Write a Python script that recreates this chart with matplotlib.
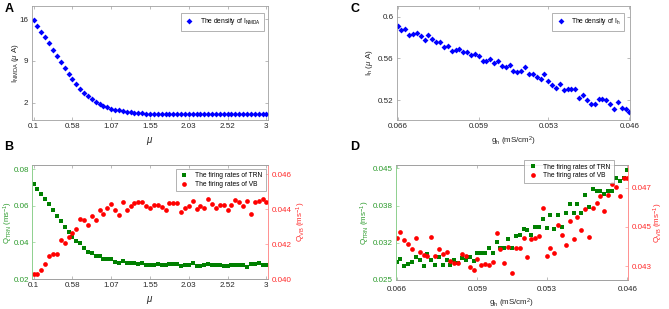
import numpy as np
import matplotlib
matplotlib.use('Agg')
import matplotlib.pyplot as plt

plt.rcParams['font.family'] = ['Liberation Sans', 'DejaVu Sans']
plt.rcParams['mathtext.fontset'] = 'custom'
plt.rcParams['mathtext.rm'] = 'Liberation Sans'
plt.rcParams['mathtext.it'] = 'Liberation Sans:italic'
plt.rcParams['mathtext.default'] = 'regular'

# ---- data ----
mu = np.linspace(0.1, 3, 61)
gh = np.linspace(0.066, 0.046, 61)

i_nmda = [15.80, 14.83, 13.87, 12.98, 11.97, 10.90, 9.84, 8.84, 7.78, 6.82,
          5.93, 5.09, 4.36, 3.68, 3.08, 2.58, 2.17, 1.79, 1.45, 1.23,
          1.00, 0.83, 0.73, 0.56, 0.45, 0.40, 0.33, 0.28, 0.23, 0.16,
          0.14, 0.13, 0.12, 0.11, 0.10, 0.10, 0.09, 0.09, 0.08, 0.08,
          0.08, 0.07, 0.07, 0.07, 0.07, 0.06, 0.06, 0.06, 0.06, 0.06,
          0.05, 0.05, 0.05, 0.05, 0.05, 0.05, 0.05, 0.05, 0.05, 0.05, 0.05]

i_h = [0.5910, 0.5875, 0.5885, 0.5827, 0.5837, 0.5843, 0.5811, 0.5779, 0.5821, 0.5786,
       0.5757, 0.5757, 0.5706, 0.5722, 0.5674, 0.5677, 0.5690, 0.5661, 0.5661, 0.5629,
       0.5645, 0.5619, 0.5578, 0.5575, 0.5594, 0.5552, 0.5578, 0.5530, 0.5517, 0.5536,
       0.5479, 0.5466, 0.5482, 0.5514, 0.5453, 0.5447, 0.5421, 0.5405, 0.5447, 0.5383,
       0.5341, 0.5312, 0.5354, 0.5296, 0.5309, 0.5309, 0.5303, 0.5223, 0.5245, 0.5200,
       0.5165, 0.5165, 0.5213, 0.5213, 0.5200, 0.5165, 0.5117, 0.5181, 0.5120, 0.5117, 0.5082]

q_trn_mu = [0.0719, 0.0690, 0.0663, 0.0636, 0.0610, 0.0575, 0.0543, 0.0516, 0.0484, 0.0459,
            0.0428, 0.0408, 0.0394, 0.0371, 0.0347, 0.0342, 0.0324, 0.0326, 0.0309, 0.0309,
            0.0309, 0.0291, 0.0290, 0.0297, 0.0286, 0.0288, 0.0288, 0.0282, 0.0290, 0.0279,
            0.0275, 0.0279, 0.0280, 0.0279, 0.0277, 0.0284, 0.0280, 0.0282, 0.0273, 0.0279,
            0.0279, 0.0288, 0.0272, 0.0273, 0.0275, 0.0280, 0.0275, 0.0275, 0.0279, 0.0272,
            0.0272, 0.0277, 0.0277, 0.0277, 0.0279, 0.0268, 0.0284, 0.0280, 0.0286, 0.0279, 0.0275]

q_vb_mu = [0.04026, 0.04028, 0.04049, 0.04085, 0.04130, 0.04145, 0.04145, 0.04221, 0.04208, 0.04243,
           0.04262, 0.04285, 0.04343, 0.04340, 0.04309, 0.04360, 0.04336, 0.04398, 0.04370, 0.04404,
           0.04432, 0.04398, 0.04368, 0.04442, 0.04396, 0.04417, 0.04436, 0.04440, 0.04440, 0.04417,
           0.04406, 0.04425, 0.04425, 0.04413, 0.04398, 0.04436, 0.04436, 0.04434, 0.04385, 0.04406,
           0.04419, 0.04445, 0.04402, 0.04417, 0.04408, 0.04460, 0.04428, 0.04409, 0.04425, 0.04425,
           0.04394, 0.04425, 0.04451, 0.04442, 0.04421, 0.04445, 0.04370, 0.04442, 0.04445, 0.04457, 0.04443]

q_trn_gh = [0.02827, 0.02875, 0.02756, 0.02780, 0.02822, 0.02917, 0.02863, 0.02756, 0.02970, 0.02863,
            0.02774, 0.02917, 0.02768, 0.02857, 0.02762, 0.02857, 0.02798, 0.02887, 0.02863, 0.02911,
            0.02839, 0.02988, 0.02988, 0.02988, 0.03077, 0.02988, 0.03185, 0.03077, 0.03077, 0.03232,
            0.03077, 0.03280, 0.03298, 0.03417, 0.03393, 0.03298, 0.03452, 0.03446, 0.03601, 0.03435,
            0.03673, 0.03405, 0.03661, 0.03452, 0.03697, 0.03863, 0.03708, 0.03863, 0.03708, 0.04024,
            0.03815, 0.04137, 0.04095, 0.04089, 0.04048, 0.04095, 0.04095, 0.04321, 0.04268, 0.04327, 0.04470]

q_vb_gh = [0.04442, 0.04476, 0.04432, 0.04414, 0.04390, 0.04444, 0.04371, 0.04356, 0.04353, 0.04447,
           0.04353, 0.04388, 0.04361, 0.04371, 0.04329, 0.04314, 0.04314, 0.04361, 0.04353, 0.04297,
           0.04281, 0.04336, 0.04307, 0.04310, 0.04307, 0.04322, 0.04471, 0.04386, 0.04319, 0.04397,
           0.04268, 0.04395, 0.04395, 0.04442, 0.04349, 0.04441, 0.04446, 0.04454, 0.04597, 0.04353,
           0.04392, 0.04366, 0.04508, 0.04458, 0.04408, 0.04531, 0.04437, 0.04553, 0.04485, 0.04590,
           0.04447, 0.04595, 0.04624, 0.04658, 0.04581, 0.04663, 0.04717, 0.04702, 0.04658, 0.04751, 0.04751]

mu_ticks = [0.1, 0.58, 1.07, 1.55, 2.03, 2.52, 3]
mu_labels = ['0.1', '0.58', '1.07', '1.55', '2.03', '2.52', '3']
gh_ticks = [0.066, 0.059, 0.053, 0.046]
gh_labels = ['0.066', '0.059', '0.053', '0.046']

# ---- styling ----
txt = '#262626'
box = '#a0a0a0'
green = '#2a9a2a'
red = '#ff2a2a'
blue = '#0000ff'
fs = 5.8

fig = plt.figure(figsize=(6.69, 3.09), dpi=100)
W, H = 669.0, 309.0

def place(x0, y0, x1, y1):
    return fig.add_axes([x0 / W, 1 - y1 / H, (x1 - x0) / W, (y1 - y0) / H])

def style(ax, lc=box, rc=box):
    for s in ['top', 'bottom']:
        ax.spines[s].set_color(box)
        ax.spines[s].set_linewidth(0.6)
    ax.spines['left'].set_color(lc)
    ax.spines['right'].set_color(rc)
    ax.spines['left'].set_linewidth(0.6)
    ax.spines['right'].set_linewidth(0.6)
    ax.tick_params(direction='in', length=2, width=0.5, labelsize=fs,
                   colors=box, labelcolor=txt, pad=2.5)

def ylab(ax, text, xfrac, color=txt, size=fs):
    # centre the rotated label on a given x (axes fraction)
    ax.set_ylabel(text, fontsize=size, color=color)
    ax.yaxis.label.set_va('center')
    ax.yaxis.set_label_coords(xfrac, 0.5)

def frame(lg):
    lg.get_frame().set_edgecolor('#909090')
    lg.get_frame().set_linewidth(0.6)

legkw = dict(loc='upper right', fontsize=4.8, frameon=True, fancybox=False,
             borderpad=0.5, handlelength=1.6, handletextpad=0.8,
             labelspacing=0.25, borderaxespad=0)

# A
axA = place(32, 6, 268, 120)
axA.plot(mu, i_nmda, 'D', color=blue, ms=3, mew=0, label=r'The density of I$_{NMDA}$')
axA.set_xlim(0.08, 3.02)
axA.set_ylim(-0.9, 18.2)
axA.set_xticks(mu_ticks)
axA.set_xticklabels(mu_labels)
axA.set_yticks([2, 9, 16])
style(axA)
axA.tick_params(top=True, right=True)
axA.set_xlabel(r'$\mathit{\mu}$', fontsize=7, color=txt, labelpad=3)
ylab(axA, r'I$_{NMDA}$ ($\mathit{\mu}$ A)', -0.072)
frame(axA.legend(bbox_to_anchor=(0.985, 0.94), **legkw))

# C
axC = place(397, 6, 630, 120)
axC.plot(gh, i_h, 'D', color=blue, ms=3, mew=0, label=r'The density of I$_h$')
axC.set_xlim(0.06605, 0.04595)
axC.set_ylim(0.5008, 0.6103)
axC.set_xticks(gh_ticks)
axC.set_xticklabels(gh_labels)
axC.set_yticks([0.52, 0.56, 0.6])
axC.set_yticklabels(['0.52', '0.56', '0.6'])
style(axC)
axC.tick_params(top=True, right=True)
axC.set_xlabel(r'g$_h$ (mS/cm$^2$)', fontsize=fs, color=txt, labelpad=3)
ylab(axC, r'I$_h$ ($\mathit{\mu}$ A)', -0.12)
frame(axC.legend(bbox_to_anchor=(0.975, 0.94), **legkw))

# B
axB = place(32, 165, 268, 279)
axB2 = axB.twinx()
hb1, = axB.plot(mu, q_trn_mu, 's', color='#008000', ms=2.3, mew=0, label='The firing rates of TRN')
hb2, = axB2.plot(mu, q_vb_mu, 'o', color='#ff0000', ms=3.4, mew=0, label='The firing rates of VB')
axB.set_xlim(0.08, 3.02)
axB.set_ylim(0.02, 0.0822)
axB2.set_ylim(0.040, 0.04653)
axB.set_xticks(mu_ticks)
axB.set_xticklabels(mu_labels)
axB.set_yticks([0.02, 0.04, 0.06, 0.08])
axB.set_yticklabels(['0.02', '0.04', '0.06', '0.08'])
axB2.set_yticks([0.040, 0.042, 0.044, 0.046])
axB2.set_yticklabels(['0.040', '0.042', '0.044', '0.046'])
style(axB, lc='#8fd08f', rc='#ff9090')
style(axB2, lc='#8fd08f', rc='#ff9090')
axB.tick_params(top=True)
axB.tick_params(axis='y', colors='#8fd08f', labelcolor=green, pad=2)
axB2.tick_params(axis='y', colors='#ff9090', labelcolor=red)
axB.set_xlabel(r'$\mathit{\mu}$', fontsize=7, color=txt, labelpad=3)
ylab(axB, r'Q$_{TRN}$ (ms$^{-1}$)', -0.1, green, 5.6)
ylab(axB2, r'Q$_{VB}$ (ms$^{-1}$)', 1.143, red)
frame(axB2.legend([hb1, hb2], [hb1.get_label(), hb2.get_label()],
                  bbox_to_anchor=(0.99, 0.965), **legkw))

# D
axD = place(396, 165, 628, 280)
axD2 = axD.twinx()
hd1, = axD.plot(gh, q_trn_gh, 's', color='#008000', ms=2.3, mew=0, label='The firing rates of TRN')
hd2, = axD2.plot(gh, q_vb_gh, 'o', color='#ff0000', ms=3.4, mew=0, label='The firing rates of VB')
axD.set_xlim(0.06605, 0.04595)
axD.set_ylim(0.025, 0.0456)
axD2.set_ylim(0.0423, 0.04815)
axD.set_xticks(gh_ticks)
axD.set_xticklabels(gh_labels)
axD.set_yticks(np.linspace(0.025, 0.045, 4))
axD.set_yticklabels(['0.025', '0.032', '0.038', '0.045'])
axD2.set_yticks([0.043, 0.045, 0.047])
axD2.set_yticklabels(['0.043', '0.045', '0.047'])
style(axD, lc='#8fd08f', rc='#ff9090')
style(axD2, lc='#8fd08f', rc='#ff9090')
axD.tick_params(top=True)
axD.tick_params(axis='y', colors='#8fd08f', labelcolor=green)
axD2.tick_params(axis='y', colors='#ff9090', labelcolor=red)
axD.tick_params(axis='x', pad=4)
axD.set_xlabel(r'g$_h$ (mS/cm$^2$)', fontsize=fs, color=txt, labelpad=3)
ylab(axD, r'Q$_{TRN}$ (ms$^{-1}$)', -0.13, green)
ylab(axD2, r'Q$_{VB}$ (ms$^{-1}$)', 1.13, red)
frame(axD2.legend([hd1, hd2], [hd1.get_label(), hd2.get_label()],
                  bbox_to_anchor=(0.94, 1.04), **legkw))

# panel letters
for lab, px, py in [('A', 9, 9), ('B', 9, 147), ('C', 355, 9), ('D', 355, 147)]:
    fig.text(px / W, 1 - py / H, lab, fontsize=9, fontweight='bold',
             ha='center', va='center', color='black')

fig.savefig('out.png', dpi=100)
